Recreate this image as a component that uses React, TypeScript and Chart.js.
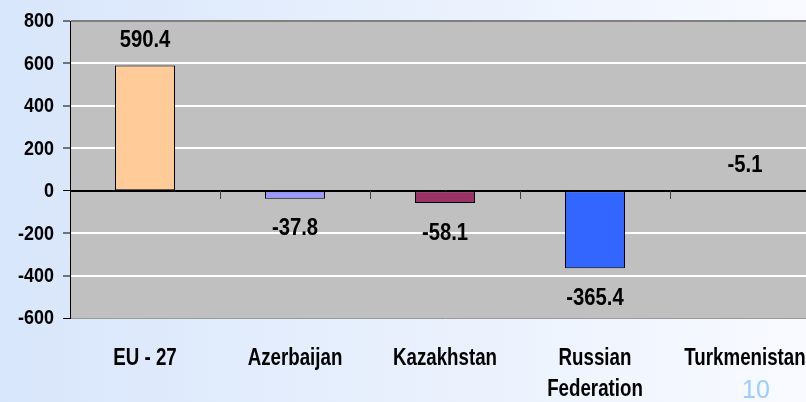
import React, { useEffect, useRef } from "react";
import { Chart, registerables } from "chart.js";

Chart.register(...registerables);

const categories: string[][] = [["EU - 27"], ["Azerbaijan"], ["Kazakhstan"], ["Russian", "Federation"], ["Turkmenistan"]];
const values: number[] = [590.4, -37.8, -58.1, -365.4, -5.1];
const barColors: string[] = ["#FFCC99", "#9999FF", "#993366", "#3366FF", "#C0C0C0"];
const barBorderWidths: number[] = [1, 1, 1, 1, 0];
const labelSides: string[] = ["above", "below", "below", "below", "above"];
const yMin = -600;
const yMax = 800;
const yStep = 200;
const slideNumber = "10";

const SANS = "'Liberation Sans', Arial, sans-serif";

function drawCondensed(ctx: CanvasRenderingContext2D, text: string, x: number, y: number, sx: number, font: string, align: CanvasTextAlign) {
  ctx.save();
  ctx.font = font;
  ctx.textAlign = align;
  ctx.textBaseline = "middle";
  ctx.translate(x, y);
  ctx.scale(sx, 1);
  ctx.fillText(text, 0, 0);
  ctx.restore();
}

export default function App() {
  const ref = useRef<HTMLCanvasElement | null>(null);

  useEffect(() => {
    if (!ref.current) return;
    const plotBg = {
      id: "plotBg",
      beforeDraw(chart: any) {
        const { ctx, chartArea } = chart;
        ctx.save();
        ctx.fillStyle = "#C0C0C0";
        ctx.fillRect(chartArea.left, chartArea.top, chartArea.right - chartArea.left, chartArea.bottom - chartArea.top);
        ctx.restore();
      },
    };
    const overlay = {
      id: "overlay",
      afterDatasetsDraw(chart: any) {
        const { ctx, chartArea, scales } = chart;
        const x = scales.x;
        const y = scales.y;
        const y0 = y.getPixelForValue(0);
        ctx.save();
        // zero line
        ctx.strokeStyle = "#000";
        ctx.lineWidth = 1;
        ctx.beginPath();
        ctx.moveTo(chartArea.left, Math.round(y0) + 0.5);
        ctx.lineTo(chartArea.right, Math.round(y0) + 0.5);
        ctx.stroke();
        // category boundary tick marks on the zero line
        const half = (x.getPixelForValue(1) - x.getPixelForValue(0)) / 2;
        ctx.strokeStyle = "#404040";
        for (let i = 0; i < categories.length - 1; i++) {
          const px = Math.round(x.getPixelForValue(i) + half) + 0.5;
          ctx.beginPath();
          ctx.moveTo(px, Math.round(y0));
          ctx.lineTo(px, Math.round(y0) + 8);
          ctx.stroke();
        }
        ctx.fillStyle = "#000";
        // y tick labels
        y.ticks.forEach((t: any) => {
          drawCondensed(ctx, String(t.value), chartArea.left - 16, y.getPixelForValue(t.value) + 1, 0.92, `bold 19.5px ${SANS}`, "right");
        });
        // category labels
        categories.forEach((lines, i) => {
          const cx = x.getPixelForValue(i);
          lines.forEach((ln, j) => {
            drawCondensed(ctx, ln, cx, chartArea.bottom + 40 + j * 31, 0.78, `bold 24px ${SANS}`, "center");
          });
        });
        // data labels
        const meta = chart.getDatasetMeta(0);
        values.forEach((v, i) => {
          const bar = meta.data[i];
          const endY = y.getPixelForValue(v);
          const ly = labelSides[i] === "above" ? Math.min(endY, y0) - 25 : Math.max(endY, y0) + 30;
          drawCondensed(ctx, v.toFixed(1), bar.x, ly, 0.845, `bold 24px ${SANS}`, "center");
        });
        // slide number
        ctx.font = `25px ${SANS}`;
        ctx.fillStyle = "#99CCFF";
        ctx.textAlign = "left";
        ctx.textBaseline = "alphabetic";
        ctx.fillText(slideNumber, 742, 398);
        ctx.restore();
      },
    };

    const chart = new Chart(ref.current, {
      type: "bar",
      data: {
        labels: categories.map((c) => c.join(" ")),
        datasets: [
          {
            data: values,
            backgroundColor: barColors,
            borderColor: "#000",
            borderWidth: barBorderWidths,
            borderSkipped: false,
            barPercentage: 0.4,
            categoryPercentage: 1,
          },
        ],
      },
      options: {
        animation: false,
        responsive: false,
        layout: { padding: { top: 21, right: 10, left: 0, bottom: 0 } },
        plugins: { legend: { display: false }, tooltip: { enabled: false }, title: { display: false } },
        scales: {
          x: {
            grid: { display: false },
            border: { display: false },
            ticks: { display: false },
            afterFit(scale: any) {
              scale.height = 84;
            },
          },
          y: {
            min: yMin,
            max: yMax,
            ticks: { stepSize: yStep, display: false },
            grid: {
              color: (c: any) => {
                const v = c.tick && c.tick.value;
                if (v === yMax) return "#808080";
                if (v === yMin) return "#9A9A9A";
                if (v === 0) return "#000";
                return "#FFFFFF";
              },
              lineWidth: (c: any) => {
                const v = c.tick && c.tick.value;
                if (v === 0 || v === yMin) return 1;
                return 2;
              },
              tickColor: "#000",
              tickLength: 7,
              tickWidth: 1,
            },
            border: { display: true, color: "#000", width: 1 },
            afterFit(scale: any) {
              scale.width = 70;
            },
          },
        },
      },
      plugins: [plotBg, overlay],
    } as any);
    return () => chart.destroy();
  }, []);

  return (
    <div
      style={{
        position: "fixed",
        left: 0,
        top: 0,
        width: 806,
        height: 402,
        overflow: "hidden",
        background: "linear-gradient(to right, #D8E6FB, #F8FAFF)",
      }}
    >
      <canvas ref={ref} width={830} height={402} style={{ display: "block", width: 830, height: 402 }} />
    </div>
  );
}
